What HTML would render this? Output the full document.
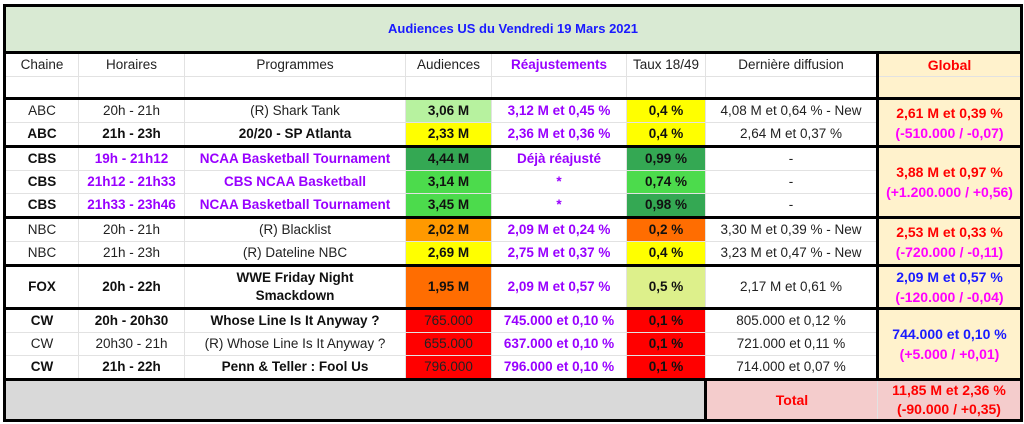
<!DOCTYPE html>
<html><head><meta charset="utf-8"><style>
html,body{margin:0;padding:0;background:#fff;width:1024px;height:424px;overflow:hidden}
table{position:absolute;left:3px;top:4px;border-collapse:collapse;table-layout:fixed;font-family:"Liberation Sans",Arial,sans-serif;font-size:13.5px;color:#222;border:3px solid #000}
td{border:1px solid #e2e2e2;text-align:center;padding:0;height:22px;white-space:nowrap;overflow:hidden;line-height:16px}
tr.e td{height:20px}
tr.f td{height:38px}
.b{font-weight:bold;color:#111}
.p{color:#9900ff;font-weight:bold}
.t td{border-top:3px solid #000}
.g{background:#fff2cc;border-left:3px solid #000!important;font-weight:bold;line-height:20px;font-size:14px}
.title{background:#d9ead3;color:#1a1aff;font-weight:bold;font-size:13px;height:44px;border-bottom:3px solid #000}
.r{color:#ff0000}.m{color:#ff00ff}.bl{color:#1a1aff}
.lg{background:#b7f29f}.y{background:#ffff00}.dg{background:#34a853}.mg{background:#4cdb4c}
.or{background:#ff9900}.oo{background:#ff6d01}.rd{background:#ff0000}.yg{background:#ddf08b}
</style></head><body>
<table>
<colgroup><col style="width:74px"><col style="width:106px"><col style="width:221px"><col style="width:86px"><col style="width:135px"><col style="width:79px"><col style="width:172px"><col style="width:144px"></colgroup>
<tr><td colspan="8" class="title">Audiences US du Vendredi 19 Mars 2021</td></tr>
<tr><td>Chaine</td><td>Horaires</td><td>Programmes</td><td>Audiences</td><td class="p">Réajustements</td><td>Taux 18/49</td><td>Dernière diffusion</td><td class="g r" style="border-top:3px solid #000">Global</td></tr>
<tr class="e"><td></td><td></td><td></td><td></td><td></td><td></td><td></td><td class="g"></td></tr>
<tr class="t"><td>ABC</td><td>20h - 21h</td><td>(R) Shark Tank</td><td class="b lg">3,06 M</td><td class="p">3,12 M et 0,45 %</td><td class="b y">0,4 %</td><td>4,08 M et 0,64 % - New</td><td class="g" rowspan="2"><span class="r">2,61 M et 0,39 %</span><br><span class="m">(-510.000 / -0,07)</span></td></tr>
<tr><td class="b">ABC</td><td class="b">21h - 23h</td><td class="b">20/20 - SP Atlanta</td><td class="b y">2,33 M</td><td class="p">2,36 M et 0,36 %</td><td class="b y">0,4 %</td><td>2,64 M et 0,37 %</td></tr>
<tr class="t"><td class="b">CBS</td><td class="p">19h - 21h12</td><td class="p">NCAA Basketball Tournament</td><td class="b dg">4,44 M</td><td class="p">Déjà réajusté</td><td class="b dg">0,99 %</td><td>-</td><td class="g" rowspan="3"><span class="r">3,88 M et 0,97 %</span><br><span class="m">(+1.200.000 / +0,56)</span></td></tr>
<tr><td class="b">CBS</td><td class="p">21h12 - 21h33</td><td class="p">CBS NCAA Basketball</td><td class="b mg">3,14 M</td><td class="p">*</td><td class="b mg">0,74 %</td><td>-</td></tr>
<tr><td class="b">CBS</td><td class="p">21h33 - 23h46</td><td class="p">NCAA Basketball Tournament</td><td class="b mg">3,45 M</td><td class="p">*</td><td class="b dg">0,98 %</td><td>-</td></tr>
<tr class="t"><td>NBC</td><td>20h - 21h</td><td>(R) Blacklist</td><td class="b or">2,02 M</td><td class="p">2,09 M et 0,24 %</td><td class="b oo">0,2 %</td><td>3,30 M et 0,39 % - New</td><td class="g" rowspan="2"><span class="r">2,53 M et 0,33 %</span><br><span class="m">(-720.000 / -0,11)</span></td></tr>
<tr><td>NBC</td><td>21h - 23h</td><td>(R) Dateline NBC</td><td class="b y">2,69 M</td><td class="p">2,75 M et 0,37 %</td><td class="b y">0,4 %</td><td>3,23 M et 0,47 % - New</td></tr>
<tr class="t f"><td class="b">FOX</td><td class="b">20h - 22h</td><td class="b" style="line-height:18px">WWE Friday Night<br>Smackdown</td><td class="b oo">1,95 M</td><td class="p">2,09 M et 0,57 %</td><td class="b yg">0,5 %</td><td>2,17 M et 0,61 %</td><td class="g"><span class="bl">2,09 M et 0,57 %</span><br><span class="m">(-120.000 / -0,04)</span></td></tr>
<tr class="t"><td class="b">CW</td><td class="b">20h - 20h30</td><td class="b">Whose Line Is It Anyway ?</td><td class="rd">765.000</td><td class="p">745.000 et 0,10 %</td><td class="b rd">0,1 %</td><td>805.000 et 0,12 %</td><td class="g" rowspan="3"><span class="bl">744.000 et 0,10 %</span><br><span class="m">(+5.000 / +0,01)</span></td></tr>
<tr><td>CW</td><td>20h30 - 21h</td><td>(R) Whose Line Is It Anyway ?</td><td class="rd">655.000</td><td class="p">637.000 et 0,10 %</td><td class="b rd">0,1 %</td><td>721.000 et 0,11 %</td></tr>
<tr><td class="b">CW</td><td class="b">21h - 22h</td><td class="b">Penn &amp; Teller : Fool Us</td><td class="rd">796.000</td><td class="p">796.000 et 0,10 %</td><td class="b rd">0,1 %</td><td>714.000 et 0,07 %</td></tr>
<tr class="t f"><td colspan="6" style="background:#d9d9d9"></td><td style="background:#f4cccc;border-left:3px solid #000;color:#ff0000;font-weight:bold;font-size:14px">Total</td><td style="background:#f4cccc;font-weight:bold;font-size:14px;line-height:19px"><span class="r">11,85 M et 2,36 %</span><br><span class="r">(-90.000 / +0,35)</span></td></tr>
</table>
</body></html>
